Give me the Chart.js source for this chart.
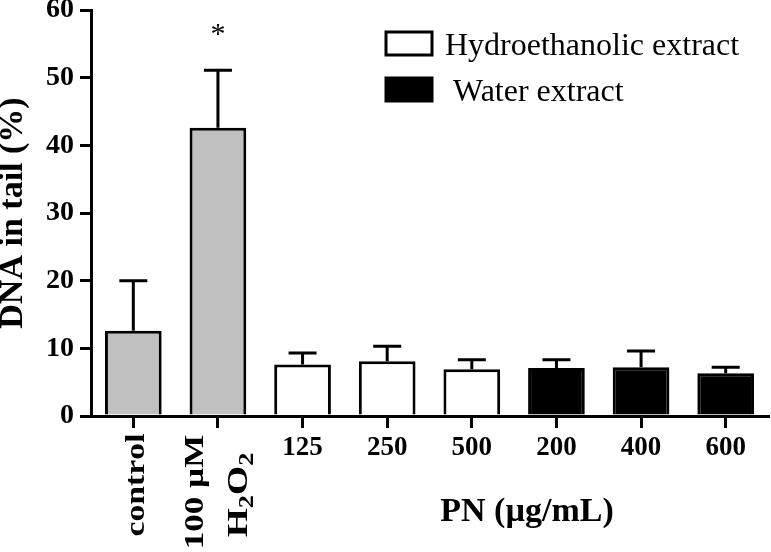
<!DOCTYPE html>
<html>
<head>
<meta charset="utf-8">
<script src="https://cdn.jsdelivr.net/npm/chart.js@4.4.1/dist/chart.umd.min.js"></script>
<style>
  body { margin: 0; background: #fff; }
  #wrap { width: 771px; height: 552px; }
</style>
</head>
<body>
<div id="wrap"><canvas id="comet" width="771" height="552"></canvas></div>
<script>
const categories = ['control', ['100 µM', 'H₂O₂'], '125', '250', '500', '200', '400', '600'];
const means = [12.6, 42.6, 7.6, 8.1, 6.9, 7.1, 7.2, 6.3];
const sd = [7.4, 8.5, 1.7, 2.2, 1.4, 1.2, 2.4, 0.9];
const groups = ['ref', 'ref', 'hydro', 'hydro', 'hydro', 'water', 'water', 'water'];
const marks = ['', '*', '', '', '', '', '', ''];
const groupNames = ['ref', 'hydro', 'water'];
const groupLabels = ['Control', 'Hydroethanolic extract', ' Water extract'];
const groupFill = ['#c0c0c0', '#ffffff', '#000000'];
const yMin = 0, yMax = 60, yStep = 10;
const xTitle = 'PN (µg/mL)';
const yTitle = 'DNA in tail (%)';

const serif = "'Liberation Serif', 'Times New Roman', serif";

const datasets = groupNames.map((g, k) => ({
    label: groupLabels[k],
    data: means.map((v, i) => groups[i] === g ? v : null),
    backgroundColor: groupFill[k],
    borderColor: '#000',
    borderWidth: 3,
    borderSkipped: 'start',
    barPercentage: 0.67,
    categoryPercentage: 1
}));

// draws text centred on x, subscript digits small and lowered
function drawRich(ctx, str, x, y, size) {
    const big = 'bold ' + size + 'px ' + serif;
    const small = 'bold ' + Math.round(size * 0.7) + 'px ' + serif;
    const parts = [...str].map(ch => {
        const sub = ch >= '₀' && ch <= '₉';
        return { sub, c: sub ? String.fromCharCode(ch.charCodeAt(0) - 0x2080 + 48) : ch };
    });
    let w = 0;
    parts.forEach(p => { ctx.font = p.sub ? small : big; w += ctx.measureText(p.c).width; });
    let cx = x - w / 2;
    ctx.textAlign = 'left';
    parts.forEach(p => {
        ctx.font = p.sub ? small : big;
        ctx.fillText(p.c, cx, p.sub ? y + size * 0.2 : y);
        cx += ctx.measureText(p.c).width;
    });
}

const extras = {
    id: 'extras',
    afterDatasetsDraw(chart) {
        const ctx = chart.ctx;
        const xs = chart.scales.x, ys = chart.scales.y;
        ctx.save();
        ctx.strokeStyle = '#000';
        ctx.fillStyle = '#000';
        ctx.lineWidth = 3;
        // error bars (upper only)
        means.forEach((m, i) => {
            const x = xs.getPixelForValue(i);
            const yb = ys.getPixelForValue(m);
            const yt = ys.getPixelForValue(m + sd[i]);
            ctx.beginPath();
            ctx.moveTo(x, yb);
            ctx.lineTo(x, yt);
            ctx.moveTo(x - 14, yt);
            ctx.lineTo(x + 14, yt);
            ctx.stroke();
            if (marks[i]) {
                ctx.font = '30px ' + serif;
                ctx.textAlign = 'center';
                ctx.textBaseline = 'middle';
                ctx.fillText(marks[i], x, 35);
            }
        });
        // category labels
        categories.forEach((lab, i) => {
            const x = xs.getPixelForValue(i);
            ctx.textBaseline = 'alphabetic';
            if (groups[i] === 'ref') {
                const lines = Array.isArray(lab) ? lab : [lab];
                const n = lines.length;
                lines.forEach((ln, j) => {
                    ctx.save();
                    const bx = x + 11 + (j - (n - 1) / 2) * 44 - (n - 1) * 4;
                    ctx.translate(bx, n > 1 ? 492 + j * 3 : 485);
                    ctx.rotate(-Math.PI / 2);
                    ctx.scale(1.25, 1);
                    drawRich(ctx, ln, 0, 0, n === 1 ? 27 : (j === 0 ? 28 : 30));
                    ctx.restore();
                });
            } else {
                ctx.font = 'bold 27px ' + serif;
                ctx.textAlign = 'center';
                ctx.fillText(lab, x, 455);
            }
        });
        // x title
        ctx.font = 'bold 34px ' + serif;
        ctx.textAlign = 'center';
        ctx.textBaseline = 'alphabetic';
        ctx.fillText(xTitle, 527, 521);
        // legend
        [1, 2].forEach((k, r) => {
            const top = 32 + r * 46;
            ctx.fillStyle = groupFill[k];
            ctx.fillRect(386, top, 46, 23);
            ctx.strokeRect(386, top, 46, 23);
            ctx.fillStyle = '#000';
            ctx.font = '32px ' + serif;
            ctx.textAlign = 'left';
            ctx.textBaseline = 'alphabetic';
            ctx.fillText(groupLabels[k], 445, top + 23);
        });
        ctx.restore();
    }
};

new Chart(document.getElementById('comet'), {
    type: 'bar',
    data: { labels: categories, datasets: datasets },
    options: {
        responsive: false,
        animation: false,
        layout: { padding: { top: 10, right: 3, left: 0, bottom: 0 } },
        plugins: {
            legend: { display: false },
            tooltip: { enabled: false }
        },
        scales: {
            x: {
                stacked: true,
                offset: true,
                border: { width: 3, color: '#000' },
                grid: { offset: false, drawOnChartArea: false, tickLength: 12, lineWidth: 3, color: '#000' },
                ticks: { display: false },
                afterFit: s => { s.height = 136; s.paddingLeft = 0; s.paddingRight = 0; }
            },
            y: {
                stacked: true,
                min: yMin,
                max: yMax,
                border: { width: 3, color: '#000' },
                grid: { drawOnChartArea: false, tickLength: 11, lineWidth: 3, color: '#000' },
                ticks: {
                    stepSize: yStep,
                    color: '#000',
                    padding: 6,
                    font: { family: serif, size: 28, weight: 'bold' }
                },
                title: {
                    display: true,
                    text: yTitle,
                    color: '#000',
                    padding: 0,
                    font: { family: serif, size: 34, weight: 'bold', lineHeight: 0.8 }
                },
                afterFit: s => { s.width = 91; s.paddingTop = 0; s.paddingBottom = 0; }
            }
        }
    },
    plugins: [extras]
});
</script>
</body>
</html>
